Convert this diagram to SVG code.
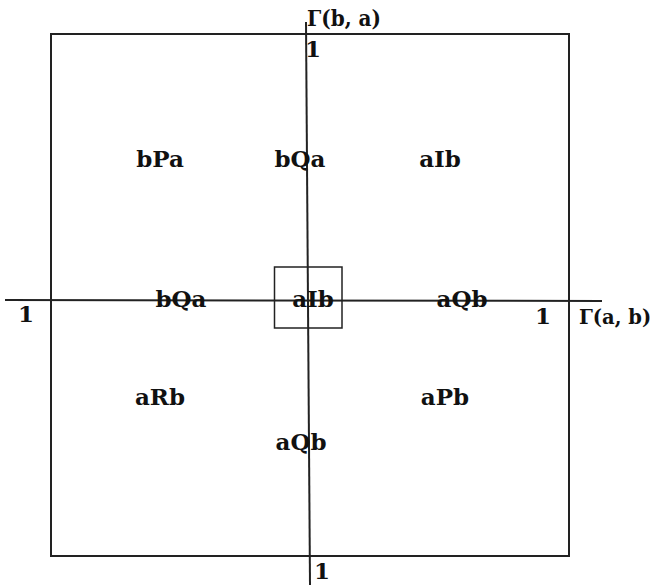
<svg xmlns="http://www.w3.org/2000/svg" width="655" height="585" viewBox="0 0 655 585">
<style>
.ln{stroke:#222;stroke-width:2;fill:none}
.thin{stroke:#222;stroke-width:1.5;fill:none}
text{font-family:"DejaVu Serif","Liberation Serif",serif;font-weight:bold;font-size:23px;fill:#111}
.c{text-anchor:middle}
.g{font-size:19.5px}
</style>
<rect width="655" height="585" fill="#fff"/>
<g id="frame"><rect class="ln" x="51" y="34" width="518" height="522"/></g>
<g id="connectors">
<line class="ln" x1="306" y1="22" x2="310" y2="585"/>
<line class="ln" x1="5" y1="300" x2="602" y2="301"/>
</g>
<g id="center"><rect class="thin" x="274.5" y="267" width="67.5" height="61"/></g>
<g id="labels">
<text x="307" y="26" textLength="74" lengthAdjust="spacingAndGlyphs">Γ(b, a)</text>
<text class="c" x="313" y="57">1</text>
<text class="c" x="160" y="167">bPa</text>
<text class="c" x="300" y="167">bQa</text>
<text class="c" x="440" y="167">aIb</text>
<text class="c" x="26" y="322">1</text>
<text class="c" x="181" y="307">bQa</text>
<text class="c" x="313" y="307">aIb</text>
<text class="c" x="462" y="307">aQb</text>
<text class="c" x="543" y="324">1</text>
<text class="g" x="579" y="324">Γ(a, b)</text>
<text class="c" x="160" y="405">aRb</text>
<text class="c" x="445" y="405">aPb</text>
<text class="c" x="301" y="450">aQb</text>
<text class="c" x="322" y="579">1</text>
</g>
</svg>
